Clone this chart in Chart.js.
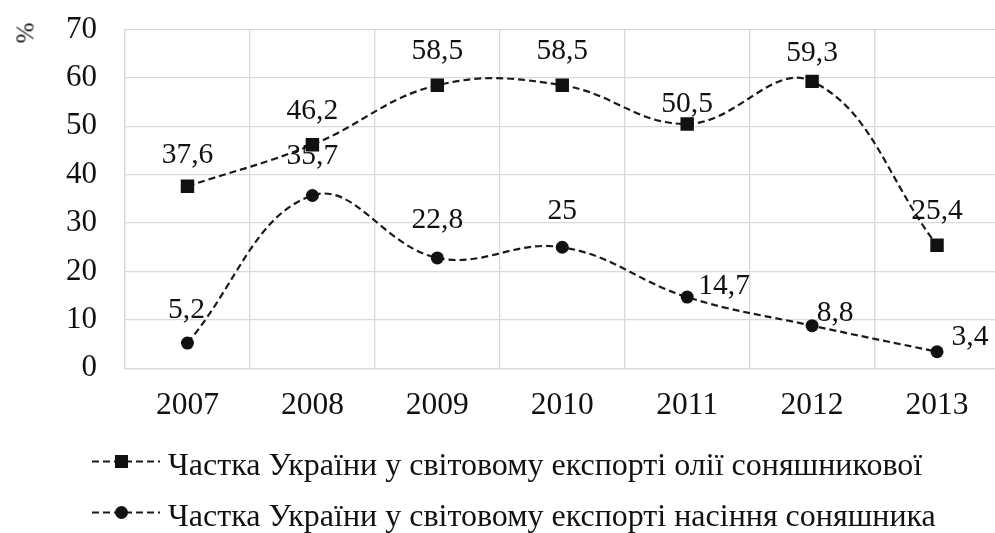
<!DOCTYPE html>
<html>
<head>
<meta charset="utf-8">
<script src="https://cdn.jsdelivr.net/npm/chart.js@4/dist/chart.umd.min.js"></script>
<style>
  html, body { margin: 0; padding: 0; background: #fff; overflow: hidden; }
  #wrap { position: relative; width: 995px; height: 533px; overflow: hidden; }
  canvas { position: absolute; left: 0; top: -17px; }
  .leg { position: absolute; left: 88px; font-family: "Liberation Serif", "DejaVu Serif", serif; font-size: 32px; color: #111; white-space: nowrap; display: flex; align-items: center; }
  .leg svg { margin-right: 6px; position: relative; top: -3px; }
  #unit { position: absolute; left: 25px; top: 33px; transform: translate(-50%, -50%) rotate(-90deg); font-family: "Liberation Serif", "DejaVu Serif", serif; font-size: 25px; color: #111; line-height: 1; }
</style>
</head>
<body>
<div id="wrap">
  <canvas id="c" width="1009" height="550"></canvas>
  <div id="unit">%</div>
  <div class="leg" id="leg1" style="top:446px"></div>
  <div class="leg" id="leg2" style="top:497px"></div>
</div>
<script>
const categories = ["2007", "2008", "2009", "2010", "2011", "2012", "2013"];
const oilShare = [37.6, 46.2, 58.5, 58.5, 50.5, 59.3, 25.4];
const seedShare = [5.2, 35.7, 22.8, 25, 14.7, 8.8, 3.4];
const seriesNames = [
  "Частка України у світовому експорті олії соняшникової",
  "Частка України у світовому експорті насіння соняшника"
];
const yTicks = [0, 10, 20, 30, 40, 50, 60, 70];

// label offsets (pixels) relative to each point
const oilLabelOffsets = [[0,-31],[0,-33],[0,-34],[0,-34],[0,-20],[0,-28],[0,-34]];
const seedLabelOffsets = [[-1,-33],[0,-39],[0,-38],[0,-36],[37,-11],[23,-12],[33,-15]];

const FONT = '"Liberation Serif", "DejaVu Serif", serif';

const labelPlugin = {
  id: 'pointLabels',
  afterDatasetsDraw(chart) {
    const ctx = chart.ctx;
    ctx.save();
    ctx.font = '29.5px ' + FONT;
    ctx.fillStyle = '#111';
    ctx.textAlign = 'center';
    ctx.textBaseline = 'middle';
    const offs = [oilLabelOffsets, seedLabelOffsets];
    chart.data.datasets.forEach((ds, i) => {
      const meta = chart.getDatasetMeta(i);
      meta.data.forEach((el, j) => {
        const txt = String(ds.data[j]).replace('.', ',');
        ctx.fillText(txt, el.x + offs[i][j][0], el.y + offs[i][j][1]);
      });
    });
    ctx.restore();
  }
};

new Chart(document.getElementById('c'), {
  type: 'line',
  data: {
    labels: categories,
    datasets: [
      {
        label: seriesNames[0],
        data: oilShare,
        borderColor: '#1a1a1a',
        borderWidth: 2.2,
        borderDash: [7, 4],
        tension: 0.4,
        pointStyle: 'rect',
        pointRadius: 9.5,
        pointBackgroundColor: '#111',
        pointBorderColor: '#111',
        pointBorderWidth: 0,
        fill: false
      },
      {
        label: seriesNames[1],
        data: seedShare,
        borderColor: '#1a1a1a',
        borderWidth: 2.2,
        borderDash: [7, 4],
        tension: 0.4,
        pointStyle: 'circle',
        pointRadius: 6.5,
        pointBackgroundColor: '#111',
        pointBorderColor: '#111',
        pointBorderWidth: 0,
        fill: false
      }
    ]
  },
  options: {
    responsive: false,
    animation: false,
    devicePixelRatio: 1,
    layout: { padding: { top: -5, bottom: 89, left: 0, right: 0 } },
    plugins: {
      legend: { display: false },
      tooltip: { enabled: false }
    },
    scales: {
      x: {
        offset: true,
        grid: { offset: true, color: '#d9d9d9', lineWidth: 1.3, drawTicks: false },
        border: { color: '#d9d9d9', width: 1.3 },
        ticks: { color: '#111', font: { family: FONT, size: 31.5 }, padding: 19 }
      },
      y: {
        min: 0, max: 70,
        afterBuildTicks(scale) { scale.ticks = yTicks.map(v => ({ value: v })); },
        afterFit(scale) { scale.width = 125; },
        grid: { color: '#d9d9d9', lineWidth: 1.3, drawTicks: false },
        border: { color: '#d9d9d9', width: 1.3 },
        ticks: { color: '#111', font: { family: FONT, size: 31 }, padding: 28 },
        title: { display: true, text: ' ', align: 'end', color: '#111', font: { family: FONT, size: 24 }, padding: { top: 12, bottom: 0 } }
      }
    }
  },
  plugins: [labelPlugin]
});

function sample(kind) {
  const marker = kind === 'rect'
    ? '<rect x="27" y="8" width="13" height="13" fill="#111"/>'
    : '<circle cx="33.5" cy="14.5" r="6.5" fill="#111"/>';
  return '<svg width="74" height="29" viewBox="0 0 74 29">' +
    '<line x1="4" y1="14.5" x2="72" y2="14.5" stroke="#1a1a1a" stroke-width="2.2" stroke-dasharray="7,4"/>' +
    marker + '</svg>';
}
document.getElementById('leg1').innerHTML = sample('rect') + '<span>' + seriesNames[0] + '</span>';
document.getElementById('leg2').innerHTML = sample('circle') + '<span>' + seriesNames[1] + '</span>';
</script>
</body>
</html>
